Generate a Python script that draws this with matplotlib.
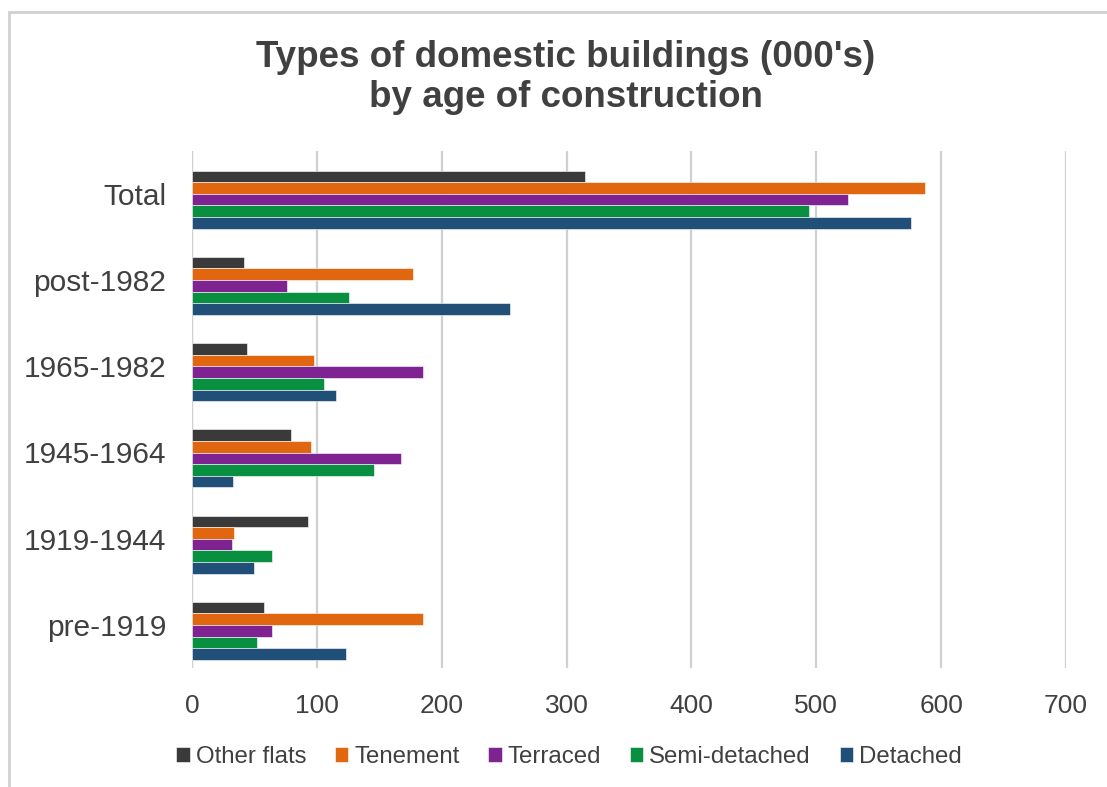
import matplotlib.pyplot as plt
import matplotlib.transforms as mtransforms
import numpy as np
from matplotlib.patches import Rectangle

plt.rcParams['font.family'] = ['Liberation Sans', 'DejaVu Sans']

categories = ['Total', 'post-1982', '1965-1982', '1945-1964', '1919-1944', 'pre-1919']
series = ['Other flats', 'Tenement', 'Terraced', 'Semi-detached', 'Detached']
other_flats = [315, 42, 44, 79, 93, 58]
tenement = [587, 177, 98, 95, 34, 185]
terraced = [525, 76, 185, 167, 32, 64]
semi_detached = [494, 126, 106, 146, 64, 52]
detached = [576, 255, 115, 33, 50, 123]
colors = ['#3a3a3a', '#e06610', '#7e2391', '#089040', '#204f78']

values = [other_flats, tenement, terraced, semi_detached, detached]

fig = plt.figure(figsize=(11.07, 7.87), dpi=100)
ax = fig.add_axes([192 / 1107, 1 - 668 / 787, 874 / 1107, 517 / 787])

# chart frame, only the top and left edges fall inside the image
fig.patches.append(Rectangle((9 / 1107, -0.1), 1.2, 1 - 12 / 787 + 0.1,
                             transform=fig.transFigure, fill=False,
                             edgecolor='#d0d0d0', linewidth=2, zorder=0))

y = np.arange(len(categories))
h = 0.1346
for i, (name, vals, c) in enumerate(zip(series, values, colors)):
    offset = (i - 2) * h
    ax.barh(y + offset, vals, height=h, color=c, label=name,
            edgecolor='white', linewidth=0.4, zorder=3)

ax.set_xlim(0, 700)
ax.set_ylim(5.43, -0.563)
ax.set_xticks(range(0, 701, 100))
ax.set_yticks(y)
ax.set_yticklabels(categories)
ax.xaxis.grid(True, color='#d0d0d0', linewidth=1.6, zorder=0)
ax.set_axisbelow(True)
for s in ax.spines.values():
    s.set_visible(False)
ax.axvline(0, color='#d0d0d0', linewidth=1.6, zorder=1)
ax.tick_params(axis='x', length=0, labelsize=19, labelcolor='#404040', pad=18.5)
ax.tick_params(axis='y', length=0, labelsize=21.5, labelcolor='#404040', pad=18.5)

# category labels sit a little above the middle of each group
lift = mtransforms.ScaledTranslation(0, 6 / 100, fig.dpi_scale_trans)
for lab in ax.get_yticklabels():
    lab.set_transform(lab.get_transform() + lift)

fig.text(0.511, 1 - 77.5 / 787, "Types of domestic buildings (000's)\nby age of construction",
         ha='center', va='center', fontsize=26.5, fontweight='bold', color='#404040',
         linespacing=1.2)

leg = fig.legend(loc='center', bbox_to_anchor=(0.514, 1 - 757 / 787), ncol=5,
                 frameon=False, fontsize=17.3, handlelength=0.55, handleheight=0.6,
                 handletextpad=0.25, columnspacing=1.2, labelcolor='#404040')

fig.savefig('out.png', dpi=100)
